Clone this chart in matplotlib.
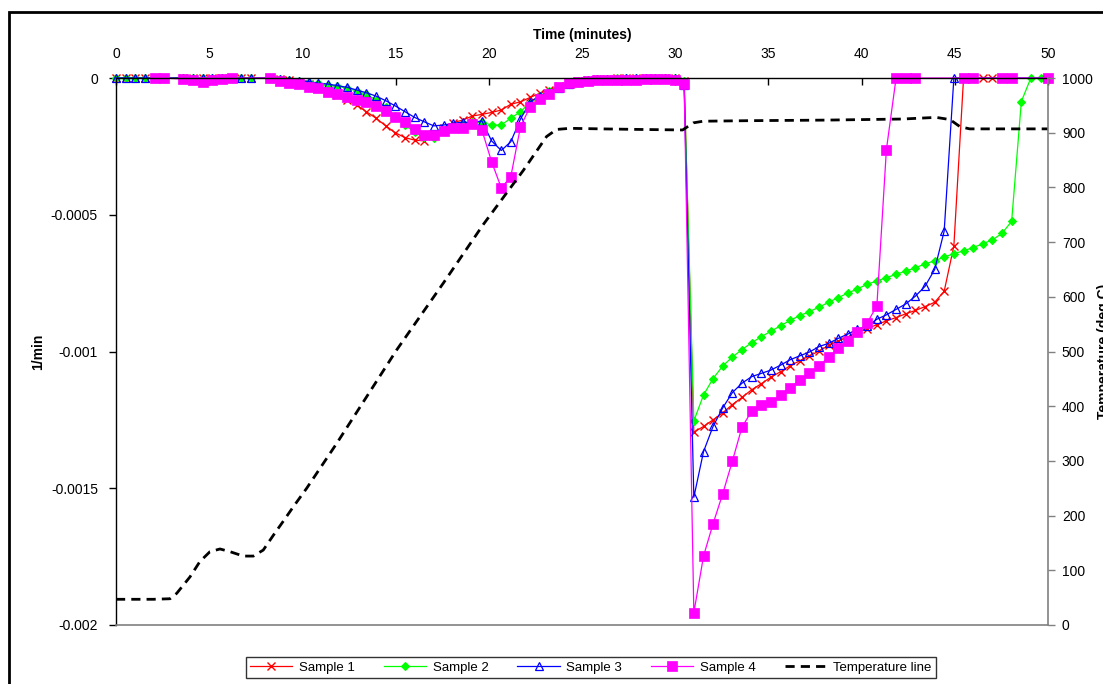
import matplotlib
matplotlib.use('Agg')
import matplotlib.pyplot as plt
from matplotlib.patches import Rectangle

plt.rcParams['font.family'] = ['Liberation Sans', 'DejaVu Sans']

# ---------------- data ----------------
time_min = [0.00, 0.52, 1.03, 1.55, 2.07, 2.58, 3.10, 3.62, 4.13, 4.65,
            5.17, 5.68, 6.20, 6.72, 7.23, 7.75, 8.27, 8.78, 9.30, 9.82,
            10.33, 10.85, 11.37, 11.88, 12.40, 12.92, 13.43, 13.95, 14.47, 14.98,
            15.50, 16.02, 16.53, 17.05, 17.57, 18.08, 18.60, 19.12, 19.63, 20.15,
            20.67, 21.18, 21.70, 22.22, 22.73, 23.25, 23.77, 24.28, 24.80, 25.32,
            25.83, 26.35, 26.87, 27.38, 27.90, 28.42, 28.93, 29.45, 29.97, 30.48,
            31.00, 31.52, 32.03, 32.55, 33.07, 33.58, 34.10, 34.62, 35.13, 35.65,
            36.17, 36.68, 37.20, 37.72, 38.23, 38.75, 39.27, 39.78, 40.30, 40.82,
            41.33, 41.85, 42.37, 42.88, 43.40, 43.92, 44.43, 44.95, 45.47, 45.98,
            46.50, 47.02, 47.53, 48.05, 48.57, 49.08, 49.60, 50.00]

sample1 = [0, 0, 0, 0, 0, 0, None, 0, 0, 0,
           0, 0, 0, 0, 0, None, 0, -0.000003, -0.000007, -0.000013,
           -0.000022, -0.000033, -0.000047, -0.000062, -0.000080, -0.000099, -0.000123, -0.000147, -0.000175, -0.000200,
           -0.000218, -0.000227, -0.000230, -0.000205, -0.000182, -0.000163, -0.000154, -0.000139, -0.000133, -0.000126,
           -0.000117, -0.000096, -0.000087, -0.000071, -0.000056, -0.000044, -0.000030, -0.000020, -0.000012, -0.000007,
           -0.000004, -0.000002, -0.000001, 0, 0, 0, 0, 0, 0, -0.000010,
           -0.001295, -0.001274, -0.001250, -0.001224, -0.001194, -0.001168, -0.001140, -0.001118, -0.001094, -0.001074,
           -0.001052, -0.001034, -0.001016, -0.000998, -0.000978, -0.000962, -0.000946, -0.000930, -0.000916, -0.000902,
           -0.000888, -0.000876, -0.000862, -0.000850, -0.000836, -0.000820, -0.000780, -0.000614, 0, 0,
           0, 0, None, None, None, None, None, None]

sample2 = [0, 0, 0, 0, 0, 0, None, 0, 0, 0,
           0, 0, 0, 0, 0, None, 0, -0.000003, -0.000006, -0.000010,
           -0.000013, -0.000019, -0.000025, -0.000030, -0.000038, -0.000047, -0.000060, -0.000080, -0.000105, -0.000140,
           -0.000172, -0.000198, -0.000216, -0.000220, -0.000195, -0.000180, -0.000170, -0.000162, -0.000162, -0.000172,
           -0.000172, -0.000147, -0.000123, -0.000090, -0.000066, -0.000048, -0.000032, -0.000020, -0.000012, -0.000007,
           -0.000004, -0.000002, -0.000001, 0, 0, 0, 0, 0, 0, -0.000010,
           -0.001254, -0.001159, -0.001099, -0.001053, -0.001020, -0.000993, -0.000968, -0.000946, -0.000926, -0.000906,
           -0.000886, -0.000869, -0.000854, -0.000838, -0.000820, -0.000803, -0.000786, -0.000771, -0.000754, -0.000742,
           -0.000730, -0.000718, -0.000706, -0.000694, -0.000680, -0.000668, -0.000655, -0.000642, -0.000632, -0.000620,
           -0.000606, -0.000592, -0.000568, -0.000524, -0.000086, 0, 0, None]

sample3 = [0, 0, 0, 0, 0, 0, None, 0, 0, 0,
           0, 0, 0, 0, 0, None, 0, -0.000003, -0.000006, -0.000010,
           -0.000013, -0.000019, -0.000022, -0.000028, -0.000034, -0.000044, -0.000054, -0.000066, -0.000083, -0.000102,
           -0.000123, -0.000144, -0.000160, -0.000175, -0.000172, -0.000166, -0.000161, -0.000163, -0.000157, -0.000230,
           -0.000265, -0.000233, -0.000150, -0.000087, -0.000065, -0.000050, -0.000035, -0.000022, -0.000013, -0.000008,
           -0.000005, -0.000003, -0.000002, -0.000001, 0, 0, 0, 0, 0, -0.000024,
           -0.001533, -0.001366, -0.001274, -0.001206, -0.001150, -0.001116, -0.001092, -0.001080, -0.001068, -0.001050,
           -0.001030, -0.001016, -0.001002, -0.000982, -0.000970, -0.000952, -0.000936, -0.000918, -0.000908, -0.000882,
           -0.000866, -0.000846, -0.000826, -0.000798, -0.000762, -0.000700, -0.000560, 0, None, None,
           None, None, None, None, None, None, None, 0]

sample4 = [None, None, None, None, 0, 0, None, -0.000004, -0.000007, -0.000013,
           -0.000007, -0.000004, 0, None, None, None, 0, -0.000010, -0.000017, -0.000022,
           -0.000032, -0.000038, -0.000050, -0.000058, -0.000068, -0.000080, -0.000087, -0.000102, -0.000119, -0.000141,
           -0.000160, -0.000186, -0.000208, -0.000208, -0.000193, -0.000182, -0.000182, -0.000169, -0.000190, -0.000306,
           -0.000402, -0.000361, -0.000178, -0.000105, -0.000078, -0.000058, -0.000032, -0.000019, -0.000014, -0.000011,
           -0.000009, -0.000008, -0.000007, -0.000006, -0.000006, -0.000005, -0.000005, -0.000005, -0.000007, -0.000022,
           -0.001955, -0.001748, -0.001630, -0.001520, -0.001400, -0.001277, -0.001218, -0.001197, -0.001185, -0.001159,
           -0.001132, -0.001105, -0.001080, -0.001053, -0.001020, -0.000989, -0.000961, -0.000930, -0.000896, -0.000832,
           -0.000262, 0, 0, 0, None, None, None, None, 0, 0,
           None, None, 0, 0, None, None, None, 0]

temp_time = [0, 1, 2, 2.9, 3.26, 3.97, 4.5, 5.04, 5.58, 6.12,
             6.83, 7.37, 7.9, 8.44, 8.98, 9.51, 10.23, 11.84, 15.06, 17.56,
             19.7, 21.85, 23.1, 23.64, 24.36, 26, 28, 30.4, 30.97, 31.5,
             34, 38, 42.2, 44.0, 44.74, 45.28, 45.8, 48, 50]
temp_degC = [47, 47, 47, 48, 58, 88, 116, 134, 139, 134,
             126, 126, 137, 164, 190, 216, 250, 332, 503, 625,
             732, 831, 893, 906, 908, 907, 906, 905, 918, 921,
             922, 923, 925, 928, 924, 911, 907, 907, 907]

series_names = ['Sample 1', 'Sample 2', 'Sample 3', 'Sample 4']
x_ticks = [0, 5, 10, 15, 20, 25, 30, 35, 40, 45, 50]
y_ticks = [0, -0.0005, -0.001, -0.0015, -0.002]
y_tick_labels = ['0', '-0.0005', '-0.001', '-0.0015', '-0.002']
t_ticks = [0, 100, 200, 300, 400, 500, 600, 700, 800, 900, 1000]

# ---------------- figure ----------------
W, H = 1103, 684
fig = plt.figure(figsize=(W / 100, H / 100), dpi=100)
ax = fig.add_axes([116 / W, 1 - 625 / H, (1048 - 116) / W, (625 - 78) / H])


def valid(vals):
    pts = [(t, v) for t, v in zip(time_min, vals) if v is not None]
    return [p[0] for p in pts], [p[1] for p in pts]


styles = [
    dict(color='#FF0000', marker='x', ms=6, mew=1.0, mfc='#FF0000', mec='#FF0000'),
    dict(color='#00FF00', marker='D', ms=4.5, mew=0.8, mfc='#00FF00', mec='#00FF00'),
    dict(color='#0000FF', marker='^', ms=6, mew=0.9, mfc='none', mec='#0000FF'),
    dict(color='#FF00FF', marker='s', ms=6.5, mew=0.5, mfc='#FF00FF', mec='#FF00FF'),
]
handles = []
for name, vals, st in zip(series_names, [sample1, sample2, sample3, sample4], styles):
    tx, vy = valid(vals)
    h, = ax.plot(tx, vy, lw=0.9, label=name, clip_on=False, **st)
    handles.append(h)

ax.set_xlim(0, 50)
ax.set_ylim(-0.002, 0)
ax.xaxis.tick_top()
ax.xaxis.set_label_position('top')
ax.set_xticks(x_ticks)
ax.set_yticks(y_ticks)
ax.set_yticklabels(y_tick_labels)
ax.tick_params(axis='x', direction='in', length=5, width=1, pad=12, labelsize=10)
ax.tick_params(axis='y', direction='out', length=5, width=1, pad=8, labelsize=10)
ax.set_xlabel('Time (minutes)', fontweight='bold', fontsize=10, labelpad=6)
ax.set_ylabel('1/min', fontweight='bold', fontsize=10, labelpad=4)
for s in ['top', 'left']:
    ax.spines[s].set_color('black')
    ax.spines[s].set_linewidth(1.0)
ax.spines['bottom'].set_color('#808080')
ax.spines['bottom'].set_linewidth(1.2)
ax.spines['right'].set_visible(False)

ax2 = ax.twinx()
ht, = ax2.plot(temp_time, temp_degC, color='black', lw=2, ls='--', dashes=(3.3, 2.2),
               label='Temperature line')
handles.append(ht)
ax2.set_ylim(0, 1000)
ax2.set_yticks(t_ticks)
ax2.tick_params(axis='y', direction='out', length=5, width=1, pad=5, labelsize=10,
                color='#808080')
for s in ['top', 'left', 'bottom']:
    ax2.spines[s].set_visible(False)
ax2.spines['right'].set_color('#808080')
ax2.spines['right'].set_linewidth(1.2)

fig.text(1097 / W, 1 - 351 / H, 'Temperature (deg C)', rotation=90, ha='left', va='center',
         fontweight='bold', fontsize=10)

leg = fig.legend(handles, [h.get_label() for h in handles], loc='center',
                 bbox_to_anchor=(591 / W, 1 - 667.5 / H), ncol=5, frameon=True,
                 fancybox=False, edgecolor='black', fontsize=9.5, handlelength=3.2,
                 columnspacing=2.2, borderpad=0.3, handletextpad=0.5)
leg.get_frame().set_linewidth(1.0)

fig.add_artist(Rectangle((9 / W, -0.5), 2.0, (H - 12) / H + 0.5, transform=fig.transFigure,
                         fill=False, edgecolor='black', lw=2, clip_on=False))

fig.savefig('out.png', dpi=100)
